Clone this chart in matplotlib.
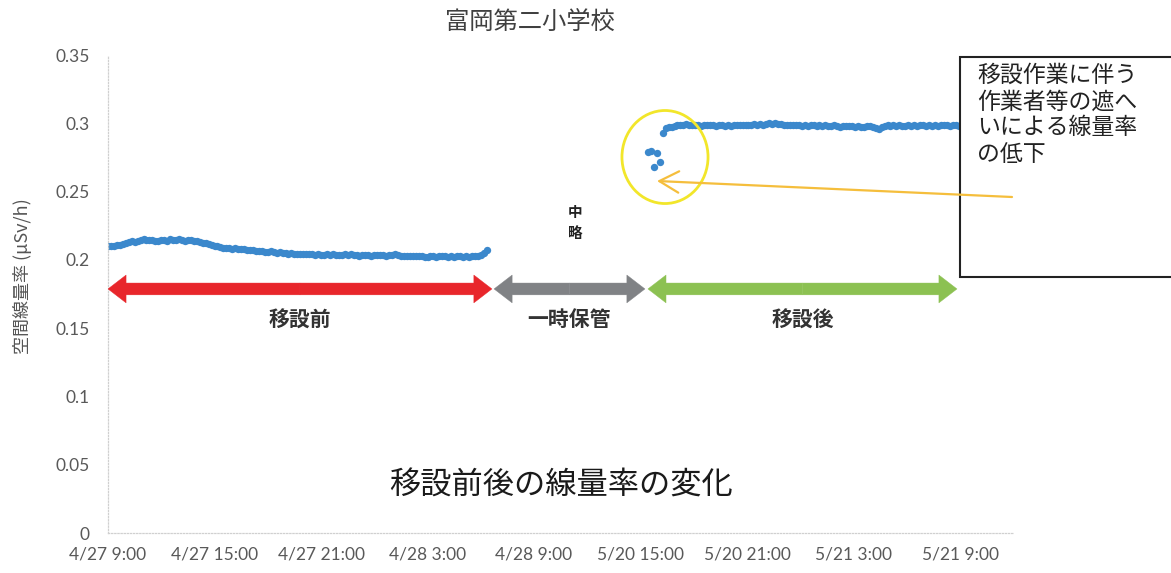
import numpy as np
import matplotlib
matplotlib.use("Agg")
import matplotlib.pyplot as plt
from matplotlib.patches import FancyArrowPatch, Ellipse, Rectangle, ArrowStyle

plt.rcParams['font.family'] = ['Lato', 'Noto Sans CJK JP', 'DejaVu Sans']

# ---------------- data ----------------
title = '富岡第二小学校'
y_label = '空間線量率 (μSv/h)'
x_tick_labels = ['4/27 9:00', '4/27 15:00', '4/27 21:00', '4/28 3:00', '4/28 9:00',
                 '5/20 15:00', '5/20 21:00', '5/21 3:00', '5/21 9:00']
x_tick_hours = [0, 6, 12, 18, 24, 30, 36, 42, 48]   # compressed time axis (hours)
y_ticks = [0, 0.05, 0.1, 0.15, 0.2, 0.25, 0.3, 0.35]
y_tick_labels = ['0', '0.05', '0.1', '0.15', '0.2', '0.25', '0.3', '0.35']

step_hours = 1 / 6          # 10-minute readings
seg1_start = 0.0            # 4/27 9:00
seg1_values = [
    0.2098, 0.2102, 0.2105, 0.2110, 0.2112, 0.2118,
    0.2122, 0.2128, 0.2135, 0.2132, 0.2138, 0.2148,
    0.2150, 0.2146, 0.2142, 0.2148, 0.2140, 0.2136,
    0.2142, 0.2146, 0.2138, 0.2150, 0.2145, 0.2148,
    0.2152, 0.2147, 0.2140, 0.2148, 0.2143, 0.2138,
    0.2135, 0.2130, 0.2126, 0.2122, 0.2116, 0.2112,
    0.2105, 0.2098, 0.2092, 0.2088, 0.2090, 0.2085,
    0.2082, 0.2086, 0.2080, 0.2076, 0.2078, 0.2074,
    0.2070, 0.2072, 0.2066, 0.2062, 0.2068, 0.2060,
    0.2058, 0.2062, 0.2055, 0.2052, 0.2056, 0.2050,
    0.2048, 0.2044, 0.2047, 0.2042, 0.2045, 0.2040,
    0.2042, 0.2045, 0.2040, 0.2043, 0.2038, 0.2041,
    0.2039, 0.2036, 0.2041, 0.2038, 0.2042, 0.2039,
    0.2036, 0.2039, 0.2041, 0.2037, 0.2040, 0.2036,
    0.2035, 0.2031, 0.2034, 0.2037, 0.2033, 0.2030,
    0.2034, 0.2037, 0.2039, 0.2035, 0.2031, 0.2034,
    0.2038, 0.2042, 0.2036, 0.2031, 0.2027, 0.2030,
    0.2029, 0.2025, 0.2028, 0.2031, 0.2027, 0.2024,
    0.2022, 0.2026, 0.2029, 0.2024, 0.2027, 0.2030,
    0.2026, 0.2022, 0.2025, 0.2021, 0.2026, 0.2029,
    0.2024, 0.2028, 0.2023, 0.2027, 0.2031, 0.2028,
    0.2036, 0.2049, 0.2072,
]
seg2_start = 30 + 25 / 60   # 5/20 15:25
seg2_values = [
    0.2790, 0.2796, 0.2680, 0.2782, 0.2716, 0.2930, 0.2966,
    0.2970, 0.2976, 0.2982, 0.2988, 0.2990, 0.2985, 0.2992,
    0.2988, 0.2984, 0.2990, 0.2986, 0.2981, 0.2987, 0.2984,
    0.2989, 0.2985, 0.2980, 0.2984, 0.2988, 0.2983, 0.2986,
    0.2982, 0.2987, 0.2984, 0.2989, 0.2985, 0.2990, 0.2986,
    0.2988, 0.2992, 0.2987, 0.2994, 0.2990, 0.2996, 0.3001,
    0.2997, 0.3003, 0.2995, 0.2992, 0.2986, 0.2991, 0.2988,
    0.2984, 0.2989, 0.2985, 0.2981, 0.2986, 0.2983, 0.2988,
    0.2984, 0.2980, 0.2985, 0.2982, 0.2987, 0.2983, 0.2979,
    0.2984, 0.2980, 0.2976, 0.2981, 0.2977, 0.2982, 0.2978,
    0.2975, 0.2980, 0.2976, 0.2972, 0.2977, 0.2981, 0.2976,
    0.2968, 0.2956, 0.2972, 0.2980, 0.2984, 0.2979, 0.2985,
    0.2981, 0.2987, 0.2983, 0.2979, 0.2985, 0.2981, 0.2986,
    0.2982, 0.2988, 0.2984, 0.2980, 0.2986, 0.2982, 0.2987,
    0.2983, 0.2988, 0.2984, 0.2986, 0.2982, 0.2987, 0.2984,
    0.2980,
]

phase_names = ['移設前', '一時保管', '移設後']
phase_spans = [(0.0, 21.63), (21.75, 30.25), (30.42, 47.83)]
phase_colors = ['#E8262B', '#808285', '#8CC152']
phase_arrow_level = 0.1787
phase_label_level = 0.156

omitted_label = '中\n略'
caption = '移設前後の線量率の変化'
note = '移設作業に伴う\n作業者等の遮へ\nいによる線量率\nの低下'

# ---------------- figure ----------------
W, H = 1171, 573
fig = plt.figure(figsize=(W / 100, H / 100), dpi=100)
fig.patch.set_facecolor('white')

ax_left_px, ax_top_px, ax_bottom_px = 108, 55, 533
x_max = 51.0
px_per_hour = 106.5 / 6
ax_width_px = x_max * px_per_hour
ax = fig.add_axes([ax_left_px / W, (H - ax_bottom_px) / H,
                   ax_width_px / W, (ax_bottom_px - ax_top_px) / H])
ax.set_xlim(0, x_max)
ax.set_ylim(0, 0.35)


def fpx(x, y):
    return (x / W, 1 - y / H)


# spines
for s in ['top', 'right']:
    ax.spines[s].set_visible(False)
for s in ['left', 'bottom']:
    ax.spines[s].set_color('#D0D0D0')
    ax.spines[s].set_linestyle((0, (1, 1.5)))
    ax.spines[s].set_linewidth(0.9)

ax.set_xticks(x_tick_hours)
ax.set_xticklabels(x_tick_labels)
ax.set_yticks(y_ticks)
ax.set_yticklabels(y_tick_labels)
ax.tick_params(axis='both', length=0, colors='#595959', labelsize=12.5)
ax.tick_params(axis='x', pad=10)
ax.tick_params(axis='y', pad=13)

# data
x1 = seg1_start + np.arange(len(seg1_values)) * step_hours
x2 = seg2_start + np.arange(len(seg2_values)) * step_hours
ax.plot(x1, seg1_values, 'o', color='#3B88CC', ms=5.3, mec='none', zorder=2)
ax.plot(x2, seg2_values, 'o', color='#3B88CC', ms=5.3, mec='none', zorder=2)

# phase arrows
for (a, b), name, col in zip(phase_spans, phase_names, phase_colors):
    mid = (a + b) / 2
    style = ArrowStyle.Simple(head_length=13, head_width=20, tail_width=8.5)
    for end in (a, b):
        arr = FancyArrowPatch((mid, phase_arrow_level), (end, phase_arrow_level),
                              arrowstyle=style, mutation_scale=1,
                              shrinkA=0, shrinkB=0, color=col, lw=0.3,
                              zorder=3)
        ax.add_patch(arr)
    ax.text(mid, phase_label_level, name, ha='center', va='center',
            fontsize=15, fontweight='bold', color='#333333',
            family=['Noto Sans CJK JP'])

# 中略
ax.text(26.3, 0.2275, omitted_label, ha='center', va='center', fontsize=10.5,
        fontweight='bold', color='#222222', linespacing=1.35,
        family=['Noto Sans CJK JP'])

# yellow circle
circ = Ellipse((31.38, 0.2753), width=4.85, height=0.0681, fill=False,
               edgecolor='#F2E62A', lw=2.0, zorder=4)
ax.add_patch(circ)

# caption
fig.text(*fpx(561, 486), caption, ha='center', va='center', fontsize=22.5,
         color='#1a1a1a', family=['Noto Sans CJK JP'])

# title
fig.text(*fpx(530, 22), title, ha='center', va='center', fontsize=17.5,
         color='#404040', family=['Noto Sans CJK JP'])

# y label
fig.text(*fpx(23, 276), y_label, ha='center', va='center', rotation=90,
         fontsize=13, color='#555555', family=['Noto Sans CJK JP'])

# note box (extends past the right edge), drawn beneath the pointer arrow
box = Rectangle(fpx(960, 277), (1200 - 960) / W, (277 - 57) / H,
                transform=fig.transFigure, fill=True, facecolor='white',
                edgecolor='#222222', lw=1.5, zorder=5, clip_on=False)
ax.add_patch(box)
ax.text(*fpx(977, 64), note, transform=fig.transFigure, ha='left', va='top',
        fontsize=16.5, color='#222222', linespacing=1.18,
        family=['Noto Sans CJK JP'], zorder=6, clip_on=False)

# pointer arrow
ax.annotate('', xy=fpx(657, 181), xycoords='figure fraction',
            xytext=fpx(1012, 197), textcoords='figure fraction',
            arrowprops=dict(arrowstyle='->,head_length=1.0,head_width=0.55',
                            color='#F5BE3C', lw=1.6, mutation_scale=14,
                            shrinkA=0, shrinkB=0),
            annotation_clip=False, zorder=7)

fig.savefig('out.png', dpi=100, facecolor='white')
